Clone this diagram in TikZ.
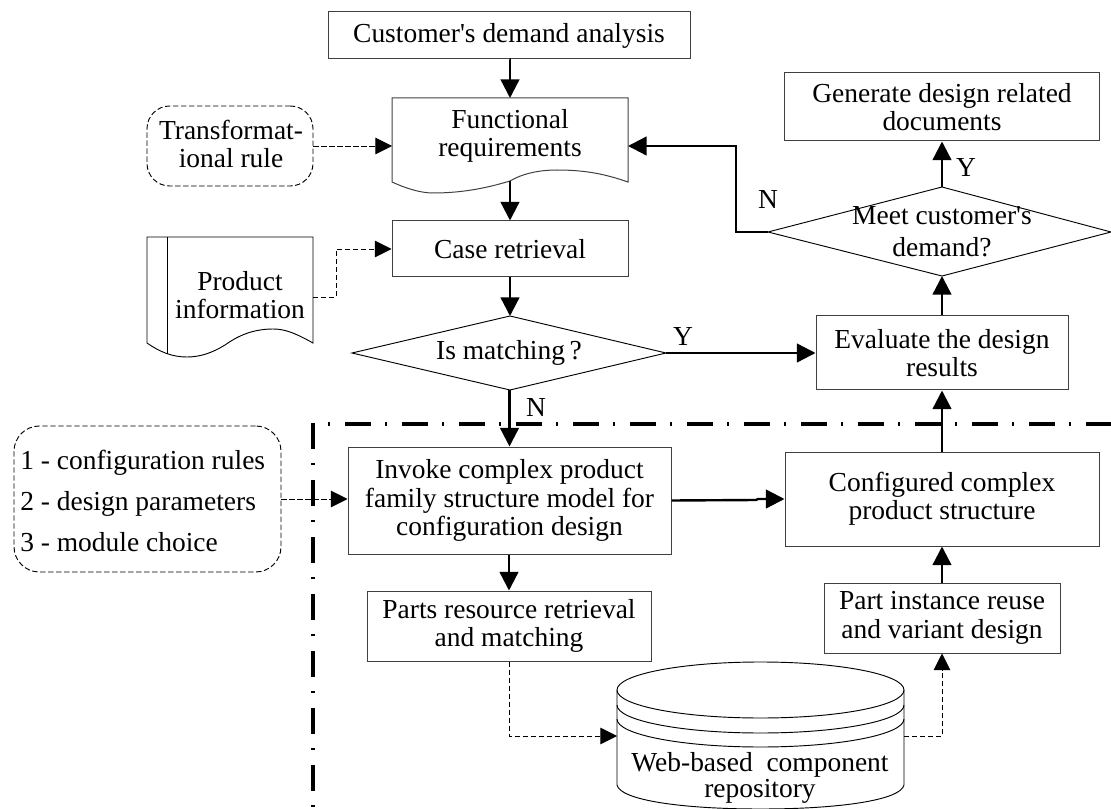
\documentclass[tikz,border=0pt]{standalone}
\usepackage{fontspec}
\newfontfamily\plainserif{Liberation Serif}
\usetikzlibrary{arrows.meta}
\tikzset{
  x=0.75pt,y=-0.75pt,
  txt/.style={font=\plainserif\fontsize{20.6}{21.3}\selectfont,align=center,inner sep=0pt},
  boxn/.style={draw=black!75,line width=0.75pt,rectangle,txt,anchor=center},
  shp/.style={draw=black,line width=0.7pt},
  flow/.style={line width=1.8pt,-{Triangle[length=14pt,width=14pt]}},
  dflow/.style={line width=0.7pt,dash pattern=on 4pt off 2pt,-{Triangle[length=12.5pt,width=12.5pt]}},
  boundh/.style={line width=2.8pt,dash pattern=on 1.5pt off 11.25pt on 19.5pt off 10.5pt},
  boundv/.style={line width=2.8pt,dash pattern=on 19.5pt off 10.5pt on 1.5pt off 11.25pt},
  rnd/.style={draw=black,line width=0.7pt,dash pattern=on 4pt off 2pt,rounded corners=17pt}
}
\newcommand{\bx}[6]{\node[boxn,minimum width=#4*0.75pt,minimum height=#5*0.75pt] (#1) at (#2,#3) {#6};}
\begin{document}
\begin{tikzpicture}
\useasboundingbox (0,0) rectangle (1111,809);
% boxes
\bx{cust}{509}{35.5}{362}{47}{Customer's demand analysis}
\bx{case}{510}{249}{236}{56}{Case retrieval}
\bx{gen}{942}{107}{315}{68}{Generate design related\\documents}
\bx{eval}{942}{353}{252}{74}{Evaluate the design\\results}
\bx{inv}{509.5}{500.5}{323}{107}{Invoke complex product\\family structure model for\\configuration design}
\bx{conf}{942}{499}{314}{94}{Configured complex\\product structure}
\bx{parts}{509}{626}{284}{70}{Parts resource retrieval\\and matching}
\bx{inst}{942}{618}{236}{70}{Part instance reuse\\and variant design}
% functional requirements document
\draw[draw=black!75,line width=0.75pt] (392,98) -- (628,98) -- (628,182) .. controls (605,174) and (585,170) .. (557,170) .. controls (530,170) and (515,178) .. (510,181) .. controls (490,187) and (465,193) .. (433,193) .. controls (420,193) and (405,188) .. (392,182) -- cycle;
\node[txt] (func) at (510,136) {Functional\\requirements};
\coordinate (funcN) at (510,98);
\coordinate (funcS) at (510,181);
\coordinate (funcW) at (392,146);
\coordinate (funcE) at (628,146);
% decisions
\draw[shp] (352,353) -- (510,316) -- (666,353) -- (510,390) -- cycle;
\node[txt] (match) at (509,353) {Is matching\,?};
\coordinate (matchN) at (510,316);
\coordinate (matchS) at (510,390);
\coordinate (matchE) at (666,353);
\draw[shp] (768,232) -- (942,187) -- (1111,232) -- (942,276) -- cycle;
\node[txt,font=\plainserif\fontsize{20.6}{24}\selectfont] (meet) at (942,232) {Meet customer's\\demand?};
\coordinate (meetN) at (942,187);
\coordinate (meetS) at (942,276);
\coordinate (meetW) at (768,232);
\coordinate (bendA) at (736,232);
\coordinate (bendB) at (736,146);
% rounded dashed
\node[rnd,minimum width=166*0.75pt,minimum height=80*0.75pt] (rule) at (230,146) {};
\node[txt] (ruletxt) at (231,144) {Transformat-\\ional rule};
\node[rnd,minimum width=267*0.75pt,minimum height=146*0.75pt,rounded corners=19pt] (cfg) at (147.5,499) {};
\node[txt,align=left,anchor=west,font=\plainserif\fontsize{20.6}{31}\selectfont] (cfgtxt) at (20,501) {1 - configuration rules\\2 - design parameters\\3 - module choice};
% product info
\draw[shp] (147,237) -- (313,237) -- (313,343) .. controls (295,333) and (285,329) .. (273,329) .. controls (250,329) and (235,338) .. (225,345) .. controls (212,353) and (200,357) .. (187,357) .. controls (172,357) and (160,352) .. (147,343) -- cycle;
\draw[shp] (167,237) -- (167,354);
\node[txt] (prod) at (240,295) {Product\\information};
\coordinate (prodE) at (313,297);
\coordinate (prodM) at (336,297);
\coordinate (prodT) at (336,249);
% cylinder
\draw[shp] (617,690) .. controls (617,674.5) and (681,662) .. (760.5,662) .. controls (840,662) and (904,674.5) .. (904,690) -- (904,785) .. controls (901,800) and (840,809) .. (760.5,809) .. controls (681,809) and (620,800) .. (617,785) -- cycle;
\draw[shp] (617,690) .. controls (617,705.5) and (681,718) .. (760.5,718) .. controls (840,718) and (904,705.5) .. (904,690);
\draw[shp] (617,705) .. controls (617,720.5) and (681,733) .. (760.5,733) .. controls (840,733) and (904,720.5) .. (904,705);
\draw[shp] (617,719) .. controls (617,734.5) and (681,747) .. (760.5,747) .. controls (840,747) and (904,734.5) .. (904,719);
\node[txt,font=\plainserif\fontsize{20.6}{19}\selectfont] (repo) at (760,778) {Web-based\ \ component\\repository};
\coordinate (repoW) at (617,736);
\coordinate (repoE) at (904,736);
\coordinate (repoL) at (509,736);
\coordinate (repoR) at (942,736);
% boundary
\coordinate (bA) at (313,423);
\coordinate (bB) at (313,809);
\coordinate (bC) at (328,424);
\coordinate (bD) at (1111,424);
\draw[boundv] (bA) -- (bB);
\draw[boundh] (bC) -- (bD);
% flows
\coordinate (jogA) at (756,500);
\coordinate (jogB) at (758,499);
\draw[flow] (cust) -- (cust.south -| funcN) -- (funcN);
\draw[flow] (funcS) -- (funcS |- case.north);
\draw[flow] (case.south) -- (matchN);
\draw[flow] (matchS -| inv.north) -- (inv.north);
\draw[flow] (matchE) -- (matchE -| eval.west);
\draw[flow] (eval.north) -- (meetS);
\draw[flow] (meetN) -- (gen.south);
\draw[flow] (meetW) -- (bendA) -- (bendB) -- (funcE);
\draw[flow] (inv.east) -- (jogA) -- (jogB) -- (conf.west);
\draw[flow] (conf.north) -- (eval.south);
\draw[flow] (inv.south -| parts.north) -- (parts.north);
\draw[flow] (inst.north) -- (conf.south);
\draw[dflow] (rule.east) -- (rule.east -| funcW);
\draw[dflow] (prodE) -- (prodM) -- (prodT) -- (prodT -| case.west);
\draw[dflow] (cfg.east) -- (cfg.east -| inv.west);
\draw[dflow] (parts.south) -- (repoL) -- (repoW);
\draw[dflow] (repoE) -- (repoR) -- (inst.south);
% labels
\node[txt] (y1) at (683,337) {Y};
\node[txt] (n1) at (536,408) {N};
\node[txt] (n2) at (768,200) {N};
\node[txt] (y2) at (966,168) {Y};
\end{tikzpicture}
\end{document}
